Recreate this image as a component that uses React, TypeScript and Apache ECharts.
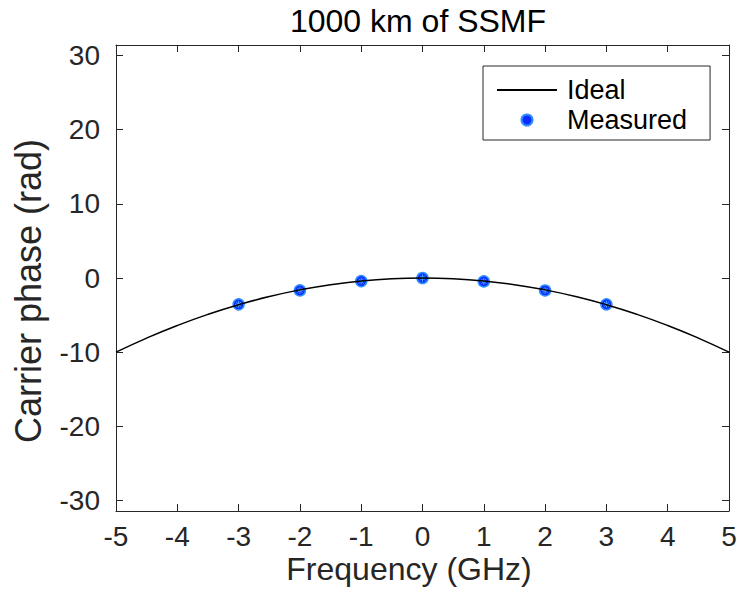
import React, { useEffect, useRef } from "react";
import * as echarts from "echarts";

const chartTitle = "1000 km of SSMF";
const xName = "Frequency (GHz)";
const yName = "Carrier phase (rad)";
const xTickValues = [-5, -4, -3, -2, -1, 0, 1, 2, 3, 4, 5];
const yTickValues = [-30, -20, -10, 0, 10, 20, 30];
const xLimits = [-5, 5];
const yLimits = [-31.416, 31.416];

const idealFreq = [-5, -4.5, -4, -3.5, -3, -2.5, -2, -1.5, -1, -0.5, 0, 0.5, 1, 1.5, 2, 2.5, 3, 3.5, 4, 4.5, 5];
const idealPhase = [-10, -8.1, -6.4, -4.9, -3.6, -2.5, -1.6, -0.9, -0.4, -0.1, 0, -0.1, -0.4, -0.9, -1.6, -2.5, -3.6, -4.9, -6.4, -8.1, -10];

const measuredFreq = [-3, -2, -1, 0, 1, 2, 3];
const measuredPhase = [-3.55, -1.67, -0.42, 0.0, -0.46, -1.68, -3.55];

const FONT = "'Liberation Sans', Arial, Helvetica, sans-serif";
const AXIS_COLOR = "#262626";

export default function App() {
  const ref = useRef<HTMLDivElement>(null);
  useEffect(() => {
    document.body.style.margin = "0";
    if (!ref.current) return;
    const chart = echarts.init(ref.current, null, { renderer: "svg" });
    const idealData = idealFreq.map((f, i) => [f, idealPhase[i]]);
    const measuredData = measuredFreq.map((f, i) => [f, measuredPhase[i]]);
    const baseX = {
      type: "value",
      min: xLimits[0],
      max: xLimits[1],
      interval: 1,
      splitLine: { show: false },
      axisLine: { show: true, onZero: false, lineStyle: { color: AXIS_COLOR, width: 1 } },
      axisTick: { show: true, inside: true, length: 7, lineStyle: { color: AXIS_COLOR, width: 1 } },
    };
    const baseY = {
      type: "value",
      min: yLimits[0],
      max: yLimits[1],
      splitLine: { show: false },
      axisLine: { show: true, onZero: false, lineStyle: { color: AXIS_COLOR, width: 1 } },
      axisTick: { show: true, inside: true, length: 7, customValues: yTickValues, lineStyle: { color: AXIS_COLOR, width: 1 } },
    };
    chart.setOption({
      animation: false,
      backgroundColor: "#ffffff",
      textStyle: { fontFamily: FONT },
      title: {
        text: chartTitle,
        left: 413,
        top: 0,
        textAlign: "center",
        textStyle: { fontFamily: FONT, fontSize: 32, fontWeight: "normal", color: "#000000" },
      },
      grid: { left: 116, right: 8, top: 45, bottom: 89, containLabel: false, outerBoundsMode: "none" },
      legend: {
        data: [
          { name: "Ideal", itemStyle: { opacity: 0 } },
          { name: "Measured" },
        ],
        orient: "vertical",
        left: 483,
        top: 66,
        itemWidth: 60,
        itemHeight: 11,
        itemGap: 0,
        padding: [9, 23, 5, 13],
        borderColor: AXIS_COLOR,
        borderWidth: 1,
        backgroundColor: "#ffffff",
        textStyle: { fontFamily: FONT, fontSize: 27, color: "#000000", lineHeight: 30, padding: [0, 0, 0, 5] },
      },
      xAxis: [
        {
          ...baseX,
          position: "bottom",
          name: xName,
          nameLocation: "middle",
          nameGap: 42,
          nameMoveOverlap: false,
          nameTextStyle: { fontFamily: FONT, fontSize: 32, color: AXIS_COLOR, padding: [0, 27, 0, 0] },
          axisLabel: { show: true, margin: 11, fontFamily: FONT, fontSize: 28, color: AXIS_COLOR },
        },
        { ...baseX, position: "top", axisLabel: { show: false } },
      ],
      yAxis: [
        {
          ...baseY,
          position: "left",
          name: yName,
          nameLocation: "middle",
          nameGap: 70,
          nameMoveOverlap: false,
          nameTextStyle: { fontFamily: FONT, fontSize: 36, color: AXIS_COLOR, padding: [0, 26, 0, 0] },
          axisLabel: { show: true, margin: 16, customValues: yTickValues, fontFamily: FONT, fontSize: 28, color: AXIS_COLOR },
        },
        { ...baseY, position: "right", axisLabel: { show: false } },
      ],
      series: [
        {
          name: "Ideal",
          type: "line",
          xAxisIndex: 0,
          yAxisIndex: 0,
          data: idealData,
          smooth: true,
          symbol: "none",
          lineStyle: { color: "#000000", width: 1.5 },
          itemStyle: { color: "#000000" },
        },
        {
          name: "Measured",
          type: "scatter",
          xAxisIndex: 0,
          yAxisIndex: 0,
          data: measuredData,
          symbol: "circle",
          symbolSize: 11,
          itemStyle: { color: "#0a2cff", borderColor: "#2f8fff", borderWidth: 1.5, opacity: 1 },
        },
        {
          name: "MeasuredStar",
          type: "scatter",
          xAxisIndex: 0,
          yAxisIndex: 0,
          data: measuredData,
          symbol: "path://M5,0L5,10M0,5L10,5M1.5,1.5L8.5,8.5M1.5,8.5L8.5,1.5",
          symbolSize: 7,
          silent: true,
          itemStyle: { color: "none", borderColor: "#4fa6ff", borderWidth: 1, opacity: 1 },
        },
      ],
    });
    return () => chart.dispose();
  }, []);
  return <div ref={ref} style={{ width: 737, height: 600 }} />;
}
